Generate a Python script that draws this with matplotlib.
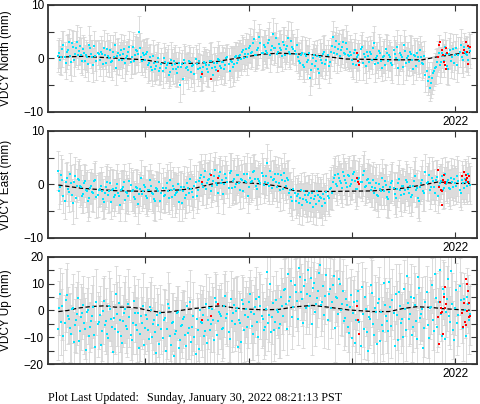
import numpy as np
import matplotlib
matplotlib.use('Agg')
import matplotlib.pyplot as plt
from matplotlib.ticker import MultipleLocator

plt.rcParams['font.family'] = ['Liberation Sans', 'DejaVu Sans']

# first and last epoch of the solutions (decimal years)
t_start = 2018.16
t_end = 2022.14

# North (mm): two interleaved sets of epochs, a = even, b = odd
north_a = [
    0.5, -0.3, 1.8, 0.2, 1.2, 3.0, -0.6, 2.2, 0.9, 3.1,
    1.4, 0.6, 1.8, -0.4, 0.3, 2.6, 0.9, -1.2, 0.5, 1.1,
    -0.2, 0.8, 2.0, -0.8, 0.4, 1.5, -0.5, 0.2, -1.8, 1.0,
    0.6, -0.3, 1.7, 0.1, 1.2, -0.6, 2.2, 0.7, 1.4, 4.9,
    0.3, 1.0, -0.2, 1.2, -0.8, -1.5, 0.4, -1.9, -0.6, -2.4,
    -1.1, 0.1, -1.7, -0.9, -2.6, -1.3, -0.4, -2.0, -1.6, -4.9,
    -1.0, -0.3, -1.8, -2.2, -0.7, -1.4, -2.9, -1.1, -0.5, -3.4,
    -1.6, -0.8, -2.0, -1.2, -0.4, -3.1, -1.5, -0.9, -0.2, -1.8,
    -0.6, -1.3, 0.2, -2.3, -0.7, -1.0, 0.4, -0.3, 0.6, 1.2,
    0.1, 1.8, 0.9, 2.4, 1.3, 3.6, 0.7, 1.9, 2.8, 1.1,
    2.2, 1.0, 3.4, 1.6, 4.5, 2.0, 0.8, 2.7, 1.5, 3.0,
    0.6, 2.3, 1.2, 3.3, 1.8, 0.9, 0.2, -0.8, 1.1, -1.6,
    0.4, -0.3, -3.6, -1.1, 0.7, -0.5, -1.9, 0.3, -0.9, 1.3,
    -0.2, -1.4, 1.2, 4.0, 2.1, 0.8, 2.7, 1.5, 3.1, 0.9,
    1.8, 0.4, 0.6, -1.0, 1.5, 0.2, -0.6, 2.1, 0.9, -1.4,
    0.4, 1.2, -0.3, 2.8, 0.1, -0.9, 1.0, -1.8, 0.5, 1.7,
    -0.5, 0.3, -1.2, 0.8, 2.2, -0.2, 0.6, -1.5, 1.4, 0.0,
    -0.7, 0.9, -2.0, 0.4, 1.1, -0.4, 0.2, -1.1, -3.0, -4.2,
    -5.5, -3.6, -2.4, -1.5, 0.3, -1.2, 1.0, -0.4, 0.8, -2.0,
    1.5, 0.2, -0.9, 1.9, 0.6, 2.6, -0.3, 1.2, 0.7, 2.0,
]
north_b = [
    1.1, 0.2, 2.5, -0.8, 1.6, 0.4, 2.8, -0.2, 1.9, 0.7,
    2.4, -0.5, 1.0, 0.6, -1.0, 1.9, 0.3, 2.3, -0.4, 0.8,
    1.3, -1.1, 0.6, 1.8, 0.0, -0.7, 1.2, 2.5, 0.4, -0.2,
    1.5, 0.9, -0.9, 0.5, 2.1, 0.3, -0.4, 1.6, 0.8, 2.0,
    -0.5, 0.6, 0.9, -1.2, 0.2, -2.1, -0.9, -1.4, 0.0, -1.8,
    -2.3, -0.6, -1.2, -3.0, -0.2, -1.9, -1.0, -2.7, -0.8, -1.5,
    -3.8, -0.9, -1.5, -0.4, -2.5, -1.2, -0.1, -2.0, -1.7, -2.6,
    -0.6, -1.3, -2.5, -0.5, -1.7, -0.9, -2.2, -0.1, -1.4, -0.7,
    -1.9, 0.0, -1.1, -0.4, -1.6, 0.3, -0.8, 0.5, -0.1, 1.5,
    0.8, 0.3, 2.0, 1.1, 2.9, 0.6, 1.6, 4.0, 1.0, 2.5,
    1.4, 2.9, 0.7, 2.3, 1.9, 3.8, 1.2, 2.0, 0.5, 2.6,
    1.7, 3.9, 0.9, 2.1, 1.4, 2.6, -0.5, 0.6, -1.3, 0.9,
    -0.7, 1.0, -2.2, 0.1, -1.4, 0.5, -2.8, -0.2, 0.9, -1.0,
    0.6, -0.6, 2.4, 1.0, 3.2, 1.7, 0.4, 2.2, 1.1, 2.8,
    0.7, 1.3, -0.2, 1.0, -1.3, 0.6, 1.8, -0.8, 0.3, 1.3,
    -0.6, 0.8, 2.0, -1.0, 0.5, 1.4, -0.4, 0.2, -1.3, 1.1,
    0.7, -0.8, 1.6, 0.0, -1.8, 1.0, 0.3, 2.5, -0.9, 0.5,
    1.3, -0.3, 0.6, -1.4, 0.2, 1.6, -0.8, 0.4, -2.4, -3.4,
    -4.6, -2.8, -1.8, -0.6, 1.1, -0.6, 0.4, 2.2, -1.4, 0.9,
    -0.5, 1.7, 0.6, -1.2, 1.3, 0.3, 2.1, 0.9, -0.2, 1.4,
]
north_sig_a = [
    3.0, 2.6, 3.4, 2.8, 3.2, 2.5, 3.6, 2.9, 2.4, 3.1,
    2.7, 3.3, 2.5, 3.0, 2.8, 3.5, 2.6, 3.2, 2.9, 2.4,
    3.1, 2.7, 3.4, 2.5, 3.0, 2.8, 3.6, 2.6, 3.2, 2.9,
    2.5, 3.3, 2.7, 3.0, 2.4, 3.1, 2.8, 3.5, 2.6, 3.0,
    2.9, 2.5, 3.2, 2.7, 3.4, 2.6, 3.0, 2.8, 3.3, 2.5,
    3.1, 2.7, 2.9, 3.4, 2.6, 3.0, 2.5, 3.2, 2.8, 3.3,
    2.6, 3.0, 2.7, 3.5, 2.9, 2.4, 3.1, 2.8, 3.3, 2.6,
    3.0, 2.5, 3.2, 2.7, 3.4, 2.9, 2.6, 3.1, 2.8, 3.0,
    2.7, 3.3, 2.5, 3.0, 2.9, 3.4, 2.6, 3.1, 2.8, 3.2,
    2.5, 3.0, 2.7, 3.3, 2.9, 3.6, 2.6, 3.1, 2.8, 3.0,
    3.2, 2.7, 3.4, 2.6, 3.0, 2.8, 3.3, 2.5, 3.1, 2.9,
    2.6, 3.0, 2.8, 3.5, 2.7, 3.2, 2.9, 2.5, 3.1, 2.8,
    3.0, 2.6, 3.3, 2.8, 2.5, 3.1, 2.9, 3.4, 2.7, 3.0,
    2.8, 3.2, 2.6, 3.0, 2.9, 3.5, 2.7, 3.1, 2.5, 3.0,
    3.3, 2.7, 3.0, 2.8, 3.2, 2.6, 3.4, 2.9, 2.5, 3.1,
    2.8, 3.0, 2.6, 3.3, 2.9, 2.7, 3.1, 2.5, 3.2, 2.8,
    3.0, 2.7, 3.4, 2.6, 3.1, 2.9, 2.5, 3.2, 2.8, 3.0,
    2.6, 3.3, 2.8, 3.0, 2.7, 3.1, 2.9, 2.5, 3.2, 2.6,
    2.5, 3.0, 2.8, 3.3, 2.9, 3.4, 2.7, 3.1, 2.6, 3.0,
    3.2, 2.8, 3.0, 2.6, 3.4, 2.9, 3.1, 2.7, 3.3, 3.0,
]
north_sig_b = [
    2.8, 3.3, 2.6, 3.1, 2.9, 3.5, 2.5, 3.0, 3.2, 2.7,
    3.4, 2.6, 3.0, 2.8, 3.3, 2.5, 3.1, 2.9, 3.6, 2.7,
    2.9, 3.2, 2.6, 3.0, 3.4, 2.7, 3.1, 2.5, 3.3, 2.8,
    3.1, 2.6, 3.4, 2.8, 3.0, 3.2, 2.5, 2.9, 3.3, 2.7,
    2.6, 3.1, 2.8, 3.3, 2.5, 3.0, 3.4, 2.7, 3.1, 2.9,
    3.3, 2.8, 3.0, 2.6, 3.2, 2.9, 3.5, 2.7, 3.0, 2.6,
    2.9, 3.2, 2.5, 3.0, 2.8, 3.4, 2.7, 3.1, 2.6, 3.3,
    2.7, 3.0, 2.9, 3.3, 2.6, 3.1, 2.8, 3.4, 2.5, 3.2,
    3.1, 2.6, 3.0, 2.8, 3.5, 2.7, 3.2, 2.9, 3.0, 2.6,
    2.8, 3.4, 2.6, 3.1, 2.7, 3.0, 3.3, 2.5, 3.2, 2.9,
    3.0, 2.8, 3.3, 2.6, 3.1, 2.9, 2.7, 3.4, 2.8, 3.2,
    2.7, 3.1, 2.9, 3.2, 2.6, 3.0, 3.3, 2.8, 2.5, 3.1,
    3.2, 2.8, 3.0, 2.6, 3.4, 2.9, 2.7, 3.1, 3.3, 2.8,
    2.9, 3.1, 2.7, 3.3, 2.6, 3.0, 2.8, 3.2, 2.9, 3.4,
    2.6, 3.0, 3.2, 2.7, 3.1, 2.8, 2.5, 3.3, 3.0, 2.7,
    3.1, 2.7, 2.9, 3.4, 2.6, 3.2, 2.8, 3.0, 2.7, 3.3,
    2.8, 3.2, 2.6, 3.0, 2.9, 3.3, 2.7, 2.8, 3.1, 2.6,
    3.0, 2.8, 3.3, 2.7, 3.1, 2.6, 3.2, 2.9, 2.7, 2.8,
    2.7, 3.1, 2.9, 2.6, 3.2, 2.8, 3.0, 2.7, 3.3, 2.9,
    3.1, 2.9, 2.7, 3.2, 2.8, 3.0, 2.6, 3.3, 2.9, 3.1,
]

# East (mm)
east_a = [
    2.6, -0.5, 0.8, -3.0, 1.2, -1.4, 0.3, -3.4, 1.6, -0.2,
    0.9, -0.5, -1.8, 0.6, -1.2, -2.6, -0.3, -1.5, 0.9, -2.0,
    -0.8, -1.3, -3.2, -0.4, -1.9, 0.2, -1.0, -2.4, -0.6, -1.6,
    -3.8, -0.9, 0.5, -1.4, -2.2, -0.1, -1.1, -2.8, -0.7, -1.7,
    1.2, -1.3, -0.5, -2.5, -1.0, -0.2, -1.8, -3.0, -0.8, 0.4,
    -1.5, -2.1, -0.6, -1.2, 0.8, -2.4, -0.9, -1.6, 0.1, -1.1,
    -3.5, -0.4, -1.9, -0.7, 1.0, -1.4, -0.3, -2.2, 0.6, 1.8,
    -0.4, 2.5, 0.2, 1.1, -1.2, 0.7, 2.8, -0.1, 1.5, 0.3,
    -1.8, 1.9, 0.5, 2.2, -0.6, 1.0, 0.0, 1.7, -1.0, 0.8,
    2.0, 0.4, -2.1, 1.3, 0.6, 2.6, -0.3, 1.1, 0.2, 1.6,
    0.5, 4.0, -0.3, 1.4, 0.8, 2.0, -0.5, 0.2, 1.7, -0.9,
    0.6, 1.2, -1.6, -2.4, -0.9, -3.1, -1.8, -2.6, -3.8, -1.2,
    -2.9, -2.0, -3.4, -1.5, -2.7, -3.6, -1.9, -2.3, -4.0, -2.8,
    -1.4, -2.5, -0.6, 0.5, 1.8, -0.2, 1.2, 0.3, 2.3, 0.8,
    -0.5, 1.6, 0.1, 2.0, 0.7, -0.8, 1.3, 0.4, 2.5, -0.3,
    1.0, 0.2, -0.4, -1.5, 0.3, -2.2, -0.8, 1.2, -1.3, -0.1,
    -2.8, -0.5, 0.6, -1.7, -0.9, 1.0, -2.0, -0.3, -1.1, 0.4,
    -1.6, -2.4, -0.2, 1.5, -0.7, -3.0, 0.2, -1.2, 2.4, 0.5,
    -1.0, 1.2, -0.4, 0.8, -2.2, 0.3, 1.6, -0.6, 0.1, 0.9,
    -0.8, 0.4, 1.1, -0.3, 0.6, -1.5, 0.2, 1.0, -0.2, 0.5,
]
east_b = [
    -1.2, 1.8, -2.2, 0.5, -0.8, 2.0, -1.9, 0.4, -2.6, 1.1,
    -0.3, -2.2, 0.3, -1.0, -3.0, -0.6, -1.4, 0.7, -2.3, -1.1,
    -0.2, -2.7, -1.5, 0.4, -1.2, -3.3, -0.8, -1.9, 0.0, -2.1,
    -1.0, -0.4, -2.9, -1.6, 0.6, -1.3, -2.4, -0.5, -3.6, -0.9,
    -1.8, -0.1, -2.2, -1.1, 0.9, -1.5, -2.7, -0.6, -1.3, -3.1,
    -0.7, -1.9, 0.3, -2.5, -1.0, -0.2, -2.0, -1.4, -3.3, -0.5,
    -1.2, -2.6, 0.2, -1.6, -0.8, -2.3, 0.5, -1.0, 1.2, 0.0,
    1.4, -0.9, 0.8, 2.0, -0.2, 1.6, 0.3, -1.5, 2.3, 0.9,
    0.1, 1.3, -0.7, 2.6, 0.6, -0.4, 1.8, 0.2, 1.1, -1.3,
    0.7, 1.9, -0.5, 0.4, 2.4, 1.0, -0.8, 0.6, 2.1, -0.1,
    1.5, 0.3, 2.6, -0.6, 1.0, 0.4, 1.9, -1.1, 0.8, 2.2,
    -0.2, 0.9, -1.0, -3.0, -1.5, -2.2, -3.5, -1.1, -2.8, -2.0,
    -3.3, -1.6, -2.5, -4.2, -2.1, -1.3, -3.0, -2.6, -1.8, -3.4,
    -2.2, -0.9, -1.6, 1.2, 0.0, 2.0, 0.6, -0.6, 1.5, 0.2,
    1.8, -0.2, 0.9, 2.4, -0.9, 1.1, 0.4, 1.7, -0.4, 0.8,
    0.3, -1.0, 0.8, -0.6, -1.9, 0.1, -1.2, -0.4, 0.7, -2.3,
    -1.4, 0.2, -0.7, -2.5, 0.3, -1.1, -0.2, -1.8, 0.8, -0.9,
    -0.3, -1.9, 0.6, -1.0, -2.6, -0.5, 0.9, -1.6, 0.3, 1.8,
    -0.5, 0.7, -1.6, 1.4, -0.2, 0.6, -1.1, 2.0, 0.4, -0.7,
    1.3, -0.4, 0.2, 1.6, -1.0, 0.8, -0.6, 0.5, 1.9, -0.1,
]
east_sig_a = [
    3.6, 3.2, 3.9, 3.4, 3.0, 3.7, 3.3, 4.0, 3.5, 3.1,
    3.8, 3.3, 3.6, 3.0, 3.9, 3.4, 3.2, 3.7, 3.5, 4.1,
    3.2, 3.6, 3.0, 3.8, 3.4, 3.1, 3.9, 3.5, 3.3, 3.7,
    3.0, 3.6, 3.3, 4.0, 3.4, 3.2, 3.8, 3.1, 3.5, 3.7,
    3.4, 3.1, 3.9, 3.3, 3.6, 3.0, 3.5, 3.8, 3.2, 3.6,
    3.7, 3.3, 3.0, 3.9, 3.4, 3.6, 3.2, 3.8, 3.1, 3.5,
    3.3, 3.8, 3.5, 3.1, 3.7, 3.4, 4.0, 3.2, 3.6, 3.9,
    3.5, 3.2, 3.8, 3.4, 3.0, 3.6, 3.3, 3.9, 3.5, 3.1,
    3.8, 3.4, 3.1, 3.7, 3.3, 3.9, 3.5, 3.2, 3.6, 3.0,
    3.4, 3.7, 3.2, 3.9, 3.5, 3.1, 3.6, 3.3, 3.8, 3.4,
    3.1, 3.6, 3.4, 3.0, 3.8, 3.3, 3.7, 3.5, 3.2, 3.9,
    3.5, 3.2, 3.7, 3.4, 3.9, 3.1, 3.6, 3.3, 3.8, 3.5,
    3.2, 3.8, 3.4, 3.6, 3.1, 3.9, 3.3, 3.7, 3.5, 3.0,
    3.6, 3.3, 3.9, 3.1, 3.5, 3.7, 3.2, 3.8, 3.4, 3.6,
    3.3, 3.7, 3.0, 3.5, 3.9, 3.2, 3.6, 3.4, 3.8, 3.1,
    3.7, 3.4, 3.8, 3.2, 3.5, 3.9, 3.1, 3.6, 3.3, 3.7,
    3.4, 3.0, 3.6, 3.8, 3.3, 3.5, 3.9, 3.2, 3.7, 3.4,
    3.8, 3.5, 3.1, 3.6, 3.4, 3.9, 3.2, 3.7, 3.3, 3.6,
    3.5, 3.9, 3.3, 3.7, 3.1, 3.6, 3.4, 3.8, 3.2, 3.5,
    3.7, 3.3, 3.6, 3.4, 3.9, 3.2, 3.5, 3.8, 3.4, 3.6,
]
east_sig_b = [
    3.4, 3.8, 3.1, 3.6, 3.3, 3.9, 3.0, 3.5, 3.7, 3.2,
    3.9, 3.1, 3.5, 3.3, 3.8, 3.0, 3.6, 3.4, 4.0, 3.2,
    3.4, 3.7, 3.1, 3.5, 3.9, 3.2, 3.6, 3.0, 3.8, 3.3,
    3.6, 3.1, 3.9, 3.3, 3.5, 3.7, 3.0, 3.4, 3.8, 3.2,
    3.1, 3.6, 3.3, 3.8, 3.0, 3.5, 3.9, 3.2, 3.6, 3.4,
    3.8, 3.3, 3.5, 3.1, 3.7, 3.4, 4.0, 3.2, 3.5, 3.1,
    3.4, 3.7, 3.0, 3.5, 3.3, 3.9, 3.2, 3.6, 3.1, 3.8,
    3.2, 3.5, 3.4, 3.8, 3.1, 3.6, 3.3, 3.9, 3.0, 3.7,
    3.6, 3.1, 3.5, 3.3, 4.0, 3.2, 3.7, 3.4, 3.5, 3.1,
    3.3, 3.9, 3.1, 3.6, 3.2, 3.5, 3.8, 3.0, 3.7, 3.4,
    3.5, 3.3, 3.8, 3.1, 3.6, 3.4, 3.2, 3.9, 3.3, 3.7,
    3.2, 3.6, 3.4, 3.7, 3.1, 3.5, 3.8, 3.3, 3.0, 3.6,
    3.7, 3.3, 3.5, 3.1, 3.9, 3.4, 3.2, 3.6, 3.8, 3.3,
    3.4, 3.6, 3.2, 3.8, 3.1, 3.5, 3.3, 3.7, 3.4, 3.9,
    3.1, 3.5, 3.7, 3.2, 3.6, 3.3, 3.0, 3.8, 3.5, 3.2,
    3.6, 3.2, 3.4, 3.9, 3.1, 3.7, 3.3, 3.5, 3.2, 3.8,
    3.3, 3.7, 3.1, 3.5, 3.4, 3.8, 3.2, 3.3, 3.6, 3.1,
    3.5, 3.3, 3.8, 3.2, 3.6, 3.1, 3.7, 3.4, 3.2, 3.3,
    3.2, 3.6, 3.4, 3.1, 3.7, 3.3, 3.5, 3.2, 3.8, 3.4,
    3.6, 3.4, 3.2, 3.7, 3.3, 3.5, 3.1, 3.8, 3.4, 3.6,
]

# Up (mm)
up_a = [
    -7.0, 6.2, 1.5, -4.5, 5.9, -3.0, -8.8, 0.8, -5.6, -1.2,
    -11.5, -2.4, 2.0, -6.8, -0.5, -9.6, -3.8, 1.2, -13.8, -5.2,
    -1.6, -7.5, 3.4, -4.0, -10.2, 0.4, -6.0, -2.8, 6.0, -8.2,
    -3.5, -12.0, -0.8, -5.8, 2.6, -9.0, -4.6, -1.0, -7.2, -14.0,
    -2.2, 1.8, -6.5, -3.2, -10.8, 0.2, -5.0, -8.0, -1.5, -12.5,
    -6.8, -3.6, -15.0, 2.5, -9.5, -4.8, -17.0, -7.6, -0.6, -11.0,
    -5.4, -2.6, -13.2, -8.4, 3.0, -6.2, -10.0, -3.0, -14.5, -4.2,
    -1.8, -7.8, -12.0, 1.0, -5.2, -3.4, 4.8, -9.2, -0.4, -2.0,
    -6.4, 5.5, -1.2, -10.6, -3.8, 2.2, -0.2, -13.6, -4.6, 3.8,
    -7.4, 0.6, -2.6, 6.0, -5.8, -1.4, 4.4, -9.8, 1.6, -3.2,
    -6.0, 14.5, -1.8, -8.0, 2.8, -4.4, 0.2, -6.6, 5.2, -2.2,
    8.0, -7.0, 3.6, 11.0, 1.4, 6.8, -3.0, 12.5, 4.2, 9.0,
    0.8, 15.0, 5.6, -5.0, 10.2, 2.4, 7.4, 17.0, 3.0, -1.6,
    13.2, 6.0, 1.0, 9.6, -6.4, 4.6, 11.8, 0.2, 7.2, -2.8,
    2.0, -8.4, 5.8, -1.0, -12.0, 3.6, -4.2, 8.8, -6.8, 0.6,
    -15.0, -3.2, 6.4, -9.0, -0.4, 2.8, -11.4, -5.6, 10.4, -2.2,
    -7.6, 1.2, 4.0, -13.4, -1.8, 7.0, -4.8, -9.8, 0.4, 13.0,
    -3.0, 5.2, -6.2, 2.2, -10.6, 8.4, -1.2, -14.0, 3.2, -5.4,
    0.8, 9.4, -7.8, 4.6, -2.6, 15.0, -9.4, 6.2, -0.6, 11.6,
    -4.4, 2.6, -11.2, 7.8, -1.6, 3.8, -6.6, 0.0, 5.0, -3.6,
]
up_b = [
    1.0, -4.2, -9.6, 3.8, -2.0, -6.4, 0.6, -11.8, -3.6, 4.6,
    -7.8, -1.0, -4.8, -14.6, 0.0, -6.2, -2.2, -9.0, 3.2, -4.4,
    -12.8, -0.2, -5.4, -8.6, 1.8, -3.0, -15.6, -6.8, -1.4, 2.8,
    -9.4, -4.0, 0.4, -7.0, -2.6, -11.2, 3.6, -5.6, -0.8, -8.8,
    -4.6, -13.0, -1.8, -7.4, 1.2, -9.8, -3.4, -16.0, -5.6, -0.8,
    -10.4, -2.8, -7.0, 0.8, -12.8, -4.2, -8.6, -1.0, -14.0, -5.8,
    -3.2, -9.2, 1.6, -6.6, -11.6, -2.2, -16.4, -7.2, 0.0, -4.8,
    -9.6, 2.4, -3.6, -7.2, 0.4, -11.0, 3.2, -4.0, -1.2, -6.8,
    1.8, -2.8, -8.2, 4.2, -0.8, -5.2, 0.8, -3.4, -11.6, 2.6,
    -1.8, -6.2, 3.0, -0.4, -8.6, 1.2, -4.4, 5.0, -2.0, -7.2,
    0.6, -4.8, 9.8, -2.6, -7.2, 4.0, -0.4, -5.0, 1.8, 7.6,
    2.6, 13.6, 5.0, -2.4, 9.6, 3.4, 15.8, 7.0, -4.6, 11.4,
    6.2, 1.8, 12.0, 8.4, -0.6, 4.8, 14.0, 2.0, 9.2, 5.4,
    -3.6, 8.0, 3.2, 12.8, 5.2, -1.2, 10.0, 2.6, -4.0, 4.4,
    -6.0, 1.4, -10.2, 3.0, -3.6, 7.4, -13.2, -1.2, 5.0, -8.2,
    -2.6, 9.6, -5.2, 0.8, -12.6, 4.4, -0.6, -7.6, 2.0, -3.8,
    10.6, -5.8, -0.8, 6.0, -11.0, 1.6, -3.2, 8.2, -7.4, 2.8,
    -1.4, -9.0, 4.6, -4.0, 12.4, -2.8, 0.6, -6.4, 6.8, -10.4,
    1.4, -3.4, 13.8, -6.0, 3.0, -1.2, 8.0, -10.8, 4.4, -2.0,
    14.6, -7.4, 1.0, -4.8, 9.0, -0.8, 4.2, -9.6, 2.4, -1.4,
]
up_sig_a = [
    11.5, 9.8, 12.6, 10.4, 12.0, 9.2, 11.0, 12.8, 10.0, 11.8,
    9.6, 12.2, 10.8, 11.4, 9.0, 12.5, 10.2, 11.6, 9.8, 12.0,
    10.6, 11.2, 9.4, 12.4, 10.0, 11.8, 9.6, 12.6, 10.8, 11.0,
    12.2, 9.8, 11.4, 10.2, 12.8, 9.4, 11.6, 10.6, 12.0, 9.2,
    11.0, 12.4, 9.6, 11.8, 10.4, 12.2, 9.8, 11.2, 10.0, 12.6,
    9.4, 11.6, 10.8, 12.0, 9.2, 11.4, 10.2, 12.8, 9.8, 11.0,
    12.4, 10.0, 11.8, 9.6, 12.2, 10.6, 11.2, 9.4, 12.0, 10.4,
    10.8, 12.6, 9.8, 11.4, 10.2, 12.0, 9.6, 11.8, 10.0, 12.4,
    11.2, 9.4, 12.2, 10.6, 11.6, 9.8, 12.8, 10.2, 11.0, 9.6,
    12.0, 10.4, 11.4, 9.2, 12.6, 10.8, 11.8, 9.6, 12.2, 10.0,
    10.6, 12.4, 9.8, 11.6, 10.2, 12.0, 9.4, 11.2, 10.8, 12.6,
    11.8, 9.6, 12.2, 10.4, 11.0, 12.8, 9.8, 11.4, 10.0, 12.4,
    9.4, 12.0, 10.6, 11.8, 9.8, 12.2, 10.2, 11.6, 10.8, 12.6,
    12.4, 10.0, 11.2, 9.6, 12.8, 10.4, 11.8, 9.2, 12.0, 10.6,
    10.2, 11.6, 9.8, 12.4, 10.8, 11.0, 12.2, 9.4, 11.4, 10.0,
    11.8, 9.6, 12.6, 10.4, 11.2, 9.8, 12.0, 10.6, 11.6, 9.2,
    12.2, 10.8, 11.4, 9.6, 12.8, 10.2, 11.0, 12.4, 9.8, 11.6,
    10.4, 12.0, 9.4, 11.8, 10.6, 12.6, 10.0, 11.2, 9.8, 12.2,
    11.6, 10.2, 12.4, 9.6, 11.0, 12.8, 10.4, 11.8, 9.2, 12.0,
    10.0, 11.4, 12.2, 9.8, 11.6, 10.6, 12.4, 10.2, 11.0, 12.6,
]
up_sig_b = [
    10.2, 12.4, 9.6, 11.8, 10.6, 12.8, 9.4, 11.2, 12.2, 10.0,
    12.0, 9.8, 11.4, 10.4, 12.6, 9.2, 11.6, 10.8, 12.4, 10.0,
    11.0, 12.2, 9.6, 11.4, 12.8, 10.2, 11.8, 9.4, 12.0, 10.6,
    11.6, 9.8, 12.4, 10.4, 11.2, 12.0, 9.2, 10.8, 12.6, 10.0,
    9.8, 11.6, 10.6, 12.2, 9.4, 11.0, 12.8, 10.2, 11.8, 10.4,
    12.4, 10.4, 11.2, 9.6, 12.0, 10.8, 12.6, 10.0, 11.4, 9.8,
    11.0, 12.2, 9.4, 11.6, 10.2, 12.8, 10.0, 11.8, 9.6, 12.4,
    10.0, 11.4, 10.8, 12.6, 9.8, 11.6, 10.4, 12.2, 9.4, 12.0,
    11.8, 9.6, 11.2, 10.4, 12.8, 10.0, 12.0, 10.8, 11.4, 9.8,
    10.4, 12.6, 9.6, 11.8, 10.0, 11.2, 12.4, 9.4, 12.0, 10.8,
    11.4, 10.2, 12.2, 9.8, 11.6, 10.6, 10.0, 12.6, 10.4, 11.8,
    10.0, 11.6, 10.8, 12.0, 9.6, 11.2, 12.4, 10.4, 9.4, 11.8,
    12.2, 10.4, 11.0, 9.6, 12.6, 10.8, 10.2, 11.6, 12.4, 10.4,
    10.8, 11.6, 10.0, 12.4, 9.6, 11.2, 10.4, 12.0, 10.8, 12.6,
    9.6, 11.2, 12.0, 10.0, 11.8, 10.4, 9.4, 12.4, 11.0, 10.2,
    11.6, 10.0, 10.8, 12.6, 9.6, 12.0, 10.4, 11.2, 10.0, 12.2,
    10.4, 12.0, 9.8, 11.2, 10.8, 12.4, 10.0, 10.6, 11.6, 9.6,
    11.2, 10.4, 12.2, 10.0, 11.6, 9.8, 12.0, 10.8, 10.0, 10.4,
    10.0, 11.4, 10.8, 9.6, 11.8, 10.2, 11.0, 10.0, 12.2, 10.8,
    11.6, 10.8, 10.0, 12.0, 10.6, 11.2, 9.8, 12.4, 10.8, 11.4,
]

# rapid / flagged solutions drawn in red
north_red_t = [2019.55, 2019.64, 2019.70, 2021.05, 2021.06, 2021.07,
               2021.83, 2021.84, 2021.85, 2021.87, 2021.88, 2021.89, 2021.90,
               2021.91, 2021.91, 2021.92, 2022.07, 2022.085, 2022.10, 2022.11,
               2022.12, 2022.12, 2022.14]
north_red_v = [-2.9, -3.9, -2.3, 1.0, -0.4, -1.3,
               0.2, 2.5, 3.1, 1.6, 0.65, -0.6, -1.2,
               -2.0, 2.0, 1.0, 1.0, 1.6, 3.0, 1.3,
               2.3, -1.0, 2.2]
east_red_t = [2019.55, 2019.64, 2019.70, 2021.05, 2021.06, 2021.07,
              2021.83, 2021.84, 2021.86, 2021.87, 2021.87, 2021.88, 2021.89,
              2021.90, 2021.90, 2022.06, 2022.08, 2022.10, 2022.10, 2022.11,
              2022.12, 2022.13]
east_red_v = [0.4, 1.7, 1.2, 1.3, 0.5, 0.1,
              2.7, -0.4, -1.0, -1.3, -3.8, 0.8, 1.8,
              0.5, 0.3, 1.5, 2.4, 1.8, 0.8, 1.2,
              0.5, 1.5]
up_red_t = [2019.55, 2019.64, 2019.70, 2021.05, 2021.06, 2021.07,
            2021.83, 2021.84, 2021.85, 2021.86, 2021.86, 2021.87, 2021.88,
            2021.89, 2021.90, 2021.90, 2021.91, 2022.06, 2022.07, 2022.08,
            2022.09, 2022.10, 2022.10, 2022.11, 2022.11, 2022.12, 2022.13,
            2022.13, 2022.14]
up_red_v = [-3.4, -2.1, 2.4, 1.7, -3.4, -8.7,
            -2.3, -12.6, 3.3, -1.1, 0.8, -0.7, -8.9,
            5.2, 8.9, 0.8, 2.4, -1.1, -6.1, 2.7,
            -4.2, 11.7, -5.4, -0.1, 9.8, 7.1, 2.7,
            -2.3, -2.1]

# fitted model (dashed line)
north_mt = [2018.16, 2018.4, 2019.0, 2019.19, 2019.51, 2019.68, 2020.0, 2020.14,
            2020.3, 2020.62, 2020.94, 2021.42, 2021.68, 2021.81, 2022.07, 2022.14]
north_mv = [0.25, 0.4, -0.25, -0.9, -0.9, -0.6, 0.4, 0.8,
            1.0, 0.7, -0.1, -0.25, -0.25, 0.25, 1.0, 1.1]
east_mt = [2018.16, 2018.38, 2018.7, 2019.03, 2019.35, 2019.48, 2019.67, 2019.84, 2020.14,
           2020.32, 2020.45, 2020.77, 2021.2, 2021.49, 2021.68, 2021.84, 2022.0, 2022.14]
east_mv = [-0.1, -0.7, -1.15, -1.3, -1.0, -0.7, 0.2, 0.5, 0.1,
           -0.4, -1.2, -1.3, -1.2, -0.7, -0.1, 0.5, 0.2, 0.2]
up_mt = [2018.16, 2018.25, 2018.35, 2018.48, 2018.61, 2018.71, 2018.84, 2018.93,
         2019.03, 2019.16, 2019.25, 2019.38, 2019.48, 2019.64, 2019.74, 2019.87,
         2020.0, 2020.14, 2020.29, 2020.46, 2020.62, 2020.78, 2020.97, 2021.2,
         2021.36, 2021.49, 2021.62, 2021.75, 2021.88, 2022.0, 2022.14]
up_mv = [-0.4, 0.0, 0.9, 1.5, 1.75, 1.25, 1.25, 0.9,
         0.0, -0.75, -0.5, 0.25, 0.75, 1.5, 1.75, 0.9,
         0.5, 0.25, 0.4, 1.4, 1.9, 1.2, 0.2, -0.4,
         -0.4, 0.7, 1.4, 1.2, 0.7, 0.4, 0.1]

years = [2019, 2020, 2021, 2022]
year_labels = ['', '', '', '2022']

fig = plt.figure(figsize=(4.81, 4.04), dpi=100)

panels = [
    (north_a, north_b, north_sig_a, north_sig_b, north_red_t, north_red_v,
     north_mt, north_mv, 10, 'VDCY North (mm)', 0.7228),
    (east_a, east_b, east_sig_a, east_sig_b, east_red_t, east_red_v,
     east_mt, east_mv, 10, 'VDCY East (mm)', 0.4109),
    (up_a, up_b, up_sig_a, up_sig_b, up_red_t, up_red_v,
     up_mt, up_mv, 20, 'VDCY Up (mm)', 0.0990),
]

for va, vb, sa, sb, rt, rv, mt, mv, lim, label, bottom in panels:
    ax = fig.add_axes([0.0998, bottom, 0.892, 0.2649])
    vals = np.column_stack([va, vb]).ravel()
    sig = np.column_stack([sa, sb]).ravel()
    t = np.linspace(t_start, t_end, len(vals))
    ax.errorbar(t, vals, yerr=sig, fmt='none', ecolor='#d6d6d6',
                elinewidth=0.6, capsize=1.5, capthick=0.6, zorder=1)
    ax.plot(mt, mv, color='black', ls=(0, (3.5, 2)), lw=0.9, zorder=3)
    ax.plot(t, vals, 's', color='#00e5ff', ms=1.7, mew=0, zorder=4)
    ax.plot(rt, rv, 's', color='red', ms=1.8, mew=0, zorder=5)

    ax.set_xlim(2018.06, 2022.21)
    ax.set_ylim(-lim, lim)
    ax.set_xticks(years)
    ax.set_xticklabels(year_labels)
    ax.yaxis.set_major_locator(MultipleLocator(10))
    ax.yaxis.set_minor_locator(MultipleLocator(5))
    ax.tick_params(which='both', direction='in', top=True, right=True,
                   length=4, width=0.8, color='#333333', labelsize=8.5, pad=3)
    ax.tick_params(axis='y', which='major', labelright=False)
    for s in ax.spines.values():
        s.set_linewidth(1.3)
        s.set_color('#333333')
    ax.set_ylabel(label, fontsize=8.5)
    ax.yaxis.set_label_coords(-0.085, 0.5)

fig.text(48 / 481, 1 - 398 / 404, 'Plot Last Updated:', family='Liberation Serif',
         fontsize=8.7, va='center')
fig.text(147 / 481, 1 - 398 / 404, 'Sunday, January 30, 2022 08:21:13 PST',
         family='Liberation Serif', fontsize=8.7, va='center')

plt.savefig('out.png', dpi=100)
